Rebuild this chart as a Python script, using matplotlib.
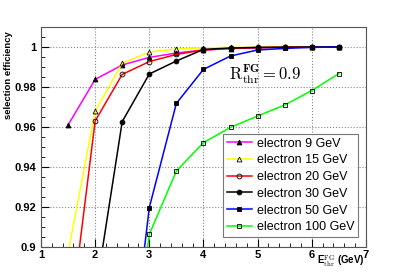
import matplotlib
matplotlib.use('Agg')
import matplotlib.pyplot as plt
from matplotlib.ticker import MultipleLocator, AutoMinorLocator

# thresholds (GeV)
e_thr = [1.5, 2.0, 2.5, 3.0, 3.5, 4.0, 4.5, 5.0, 5.5, 6.0, 6.5]

eff_9 = [0.961, 0.9838, 0.991, 0.9948, 0.9970, 0.9985, 0.9992, 0.9996, 0.9998, 1.0, 1.0]
eff_15 = [0.897, 0.968, 0.9918, 0.9975, 0.9990, 0.9996, 0.9998, 0.9999, 1.0, 1.0, 1.0]
eff_20 = [0.854, 0.963, 0.9863, 0.9927, 0.9963, 0.9985, 0.9993, 0.9997, 0.9999, 1.0, 1.0]
eff_30 = [0.75, 0.8756, 0.9627, 0.9865, 0.9930, 0.9988, 0.9995, 0.9998, 0.9999, 1.0, 1.0]
eff_50 = [0.60, 0.70, 0.806, 0.9197, 0.9718, 0.9888, 0.9955, 0.9985, 0.9993, 0.9998, 1.0]
eff_100 = [0.50, 0.60, 0.806, 0.9063, 0.938, 0.9522, 0.9598, 0.9655, 0.971, 0.9782, 0.9867]

labels = ['electron 9 GeV', 'electron 15 GeV', 'electron 20 GeV',
          'electron 30 GeV', 'electron 50 GeV', 'electron 100 GeV']
colors = ['#ff00ff', '#ffff00', '#ff0000', '#000000', '#0000ff', '#00ff00']
markers = ['^', '^', 'o', 'o', 's', 's']
filled = [True, False, False, True, True, False]

plt.rcParams['font.family'] = ['Liberation Sans', 'DejaVu Sans']
plt.rcParams['mathtext.fontset'] = 'cm'

fig = plt.figure(figsize=(4.07, 2.75), dpi=100)
ax = fig.add_axes([0.1007, 0.1018, 0.7983, 0.80])

series = [eff_9, eff_15, eff_20, eff_30, eff_50, eff_100]
for vals, lab, c, m, f in zip(series, labels, colors, markers, filled):
    ax.plot(e_thr, vals, color=c, lw=1.1, marker=m, ms=3.5,
            markerfacecolor='black' if f else 'none',
            markeredgecolor='black', markeredgewidth=0.6, label=lab)

ax.set_xlim(1, 7)
ax.set_ylim(0.9, 1.01)
ax.xaxis.set_major_locator(MultipleLocator(1))
ax.xaxis.set_minor_locator(AutoMinorLocator(5))
ax.yaxis.set_major_locator(MultipleLocator(0.02))
ax.yaxis.set_minor_locator(AutoMinorLocator(4))
ax.set_yticks([0.9, 0.92, 0.94, 0.96, 0.98, 1.0])
ax.set_yticklabels(['0.9', '0.92', '0.94', '0.96', '0.98', '1'])
ax.tick_params(which='both', direction='in', top=False, right=False, labelsize=8)
ax.tick_params(axis='x', pad=2)
ax.tick_params(which='major', length=6)
ax.tick_params(which='minor', length=3)
for t in ax.get_xticklabels() + ax.get_yticklabels():
    t.set_fontweight('bold')
ax.grid(True, which='major', ls=':', color='#888888', lw=0.8)
for s in ax.spines.values():
    s.set_linewidth(0.8)
    s.set_color('#555555')

ax.set_ylabel('selection efficiency', fontsize=6.8, fontweight='bold')
ax.yaxis.set_label_coords(-0.085, 0.78)
fig.text(0.895, 0.022, r'E$_{\rm thr}^{\rm FG}$ (GeV)', ha='right', va='bottom',
         fontsize=7, fontweight='bold')

ax.text(0.578, 0.759, r'$\mathrm{R}_{\mathrm{thr}}^{\mathbf{FG}} = 0.9$',
        transform=ax.transAxes, fontsize=12, va='baseline')

leg = ax.legend(loc='lower right', bbox_to_anchor=(0.975, 0.045), borderaxespad=0,
                prop={'size': 9}, frameon=True, fancybox=False, handlelength=2.0,
                handletextpad=0.4, borderpad=0.3, labelspacing=0.38,
                edgecolor='#555555')
leg.get_frame().set_linewidth(0.8)

fig.savefig('out.png', dpi=100)
